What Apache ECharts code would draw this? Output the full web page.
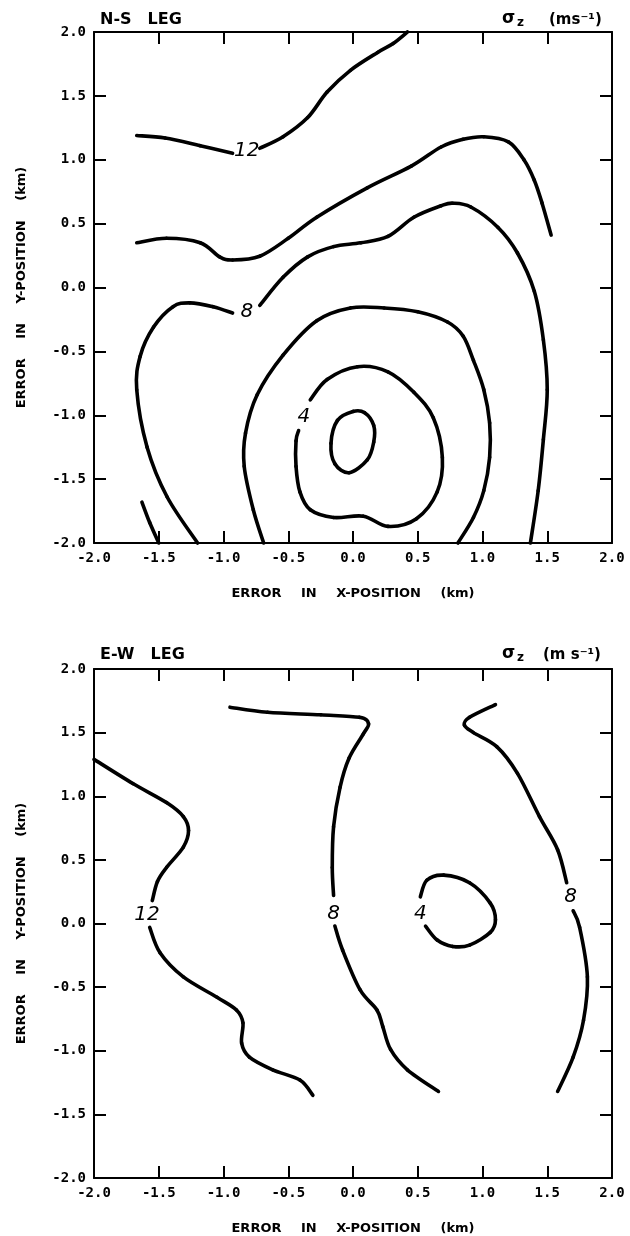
<!DOCTYPE html>
<html>
<head>
<meta charset="utf-8">
<script src="https://cdn.jsdelivr.net/npm/echarts@6/dist/echarts.min.js"></script>
<style>
  html, body { margin: 0; padding: 0; background: #fff; }
  #chart { width: 630px; height: 1236px; }
</style>
</head>
<body>
<div id="chart"></div>
<script>
// Axis range shared by both panels (km)
const axisMin = -2;
const axisMax = 2;
const axisStep = 0.5;

// ---- N-S leg: sigma_z isolines (x km, y km) ----
const nsLine12a = [[-1.67, 1.19], [-1.45, 1.17], [-1.18, 1.11], [-0.93, 1.05]];
const nsLine12b = [[-0.72, 1.09], [-0.54, 1.18], [-0.35, 1.33], [-0.20, 1.53], [-0.02, 1.70], [0.19, 1.84], [0.31, 1.91], [0.42, 2.0]];
const nsLine10 = [[-1.67, 0.35], [-1.44, 0.385], [-1.18, 0.35], [-1.03, 0.24], [-0.93, 0.215], [-0.72, 0.245], [-0.50, 0.385], [-0.28, 0.55], [0.11, 0.78], [0.45, 0.95], [0.68, 1.10], [0.85, 1.16], [1.01, 1.18], [1.20, 1.14], [1.32, 1.00], [1.40, 0.84], [1.46, 0.66], [1.53, 0.41]];
const nsLine8a = [[-1.20, -2.0], [-1.435, -1.64], [-1.59, -1.25], [-1.67, -0.80], [-1.644, -0.54], [-1.54, -0.31], [-1.39, -0.15], [-1.26, -0.12], [-1.08, -0.15], [-0.93, -0.20]];
const nsLine8b = [[-0.72, -0.14], [-0.54, 0.08], [-0.35, 0.24], [-0.15, 0.32], [0.06, 0.35], [0.27, 0.40], [0.47, 0.55], [0.68, 0.64], [0.77, 0.66], [0.91, 0.63], [1.12, 0.47], [1.27, 0.27], [1.40, -0.03], [1.47, -0.41], [1.50, -0.80], [1.47, -1.19], [1.43, -1.59], [1.37, -2.0]];
const nsLineStub = [[-1.63, -1.68], [-1.57, -1.84], [-1.50, -2.0]];
const nsLine6 = [[-0.69, -2.0], [-0.77, -1.74], [-0.84, -1.40], [-0.83, -1.14], [-0.74, -0.84], [-0.54, -0.53], [-0.28, -0.26], [-0.02, -0.16], [0.24, -0.16], [0.50, -0.19], [0.73, -0.27], [0.85, -0.38], [0.93, -0.57], [1.01, -0.80], [1.055, -1.06], [1.055, -1.33], [1.01, -1.59], [0.93, -1.80], [0.81, -2.0]];
const nsLine4 = [[-0.33, -0.88], [-0.20, -0.72], [0.035, -0.62], [0.27, -0.66], [0.47, -0.82], [0.62, -1.02], [0.69, -1.33], [0.65, -1.60], [0.49, -1.81], [0.27, -1.87], [0.08, -1.79], [-0.15, -1.80], [-0.33, -1.74], [-0.41, -1.60], [-0.44, -1.40], [-0.44, -1.20], [-0.42, -1.12]];
const nsLine2 = [[0.0, -0.97], [0.09, -0.98], [0.16, -1.08], [0.16, -1.21], [0.11, -1.35], [-0.03, -1.45], [-0.14, -1.38], [-0.17, -1.22], [-0.12, -1.04], [0.0, -0.97]];
const nsLabels = [
  { name: '12', value: [-0.82, 1.07] },
  { name: '8', value: [-0.82, -0.19] },
  { name: '4', value: [-0.38, -1.01] }
];

// ---- E-W leg: sigma_z isolines ----
const ewLine12a = [[-2.0, 1.29], [-1.70, 1.10], [-1.44, 0.95], [-1.31, 0.84], [-1.27, 0.73], [-1.31, 0.60], [-1.44, 0.44], [-1.51, 0.33], [-1.55, 0.18]];
const ewLine12b = [[-1.57, -0.03], [-1.49, -0.23], [-1.31, -0.42], [-1.05, -0.58], [-0.90, -0.68], [-0.85, -0.78], [-0.86, -0.94], [-0.80, -1.05], [-0.62, -1.15], [-0.41, -1.23], [-0.31, -1.35]];
const ewLine8a = [[-0.95, 1.70], [-0.66, 1.66], [-0.25, 1.64], [0.05, 1.62], [0.12, 1.57], [0.08, 1.49], [-0.03, 1.30], [-0.10, 1.07], [-0.15, 0.76], [-0.16, 0.44], [-0.15, 0.22]];
const ewLine8b = [[-0.14, -0.02], [-0.08, -0.21], [0.054, -0.52], [0.185, -0.68], [0.23, -0.81], [0.29, -0.99], [0.42, -1.15], [0.66, -1.32]];
const ewLine4 = [[0.52, 0.21], [0.57, 0.34], [0.70, 0.38], [0.90, 0.32], [1.06, 0.16], [1.10, 0.03], [1.06, -0.07], [0.90, -0.17], [0.77, -0.18], [0.65, -0.13], [0.56, -0.02]];
const ewLine8c = [[1.10, 1.72], [0.90, 1.62], [0.86, 1.56], [0.93, 1.50], [1.11, 1.39], [1.27, 1.18], [1.44, 0.84], [1.58, 0.58], [1.65, 0.32]];
const ewLine8d = [[1.70, 0.10], [1.75, -0.03], [1.81, -0.42], [1.78, -0.76], [1.70, -1.05], [1.58, -1.32]];
const ewLabels = [
  { name: '12', value: [-1.59, 0.07] },
  { name: '8', value: [-0.15, 0.08] },
  { name: '4', value: [0.52, 0.08] },
  { name: '8', value: [1.68, 0.21] }
];

const gap = '\u2002\u2002\u2002';
const panelTitles = ['N-S\u2002\u2002LEG', 'E-W\u2002\u2002LEG'];
const unitText = ['(ms⁻¹)', '(m s⁻¹)'];
const xName = ['ERROR', 'IN', 'X-POSITION', '(km)'].join(gap);
const yName = ['ERROR', 'IN', 'Y-POSITION', '(km)'].join(gap);

const font = 'DejaVu Sans';
const tickFont = 'DejaVu Sans Mono';
const ink = '#000';

const grids = [
  { left: 94, top: 32, width: 518, height: 511 },
  { left: 94, top: 669, width: 518, height: 509 }
];

function frameAxes(gi, dir) {
  // two axes per direction: one labelled, one bare (ticks only) on the opposite side
  const main = {
    type: 'value', gridIndex: gi, min: axisMin, max: axisMax, interval: axisStep,
    axisLine: { show: true, onZero: false, lineStyle: { color: ink, width: 2 } },
    axisTick: { show: true, inside: true, length: 12, lineStyle: { color: ink, width: 2 } },
    splitLine: { show: false },
    axisLabel: {
      show: true, color: ink, fontFamily: tickFont, fontWeight: 'bold', fontSize: 14,
      margin: 8,
      formatter: v => v.toFixed(1)
    },
    name: dir === 'x' ? xName : yName,
    nameLocation: 'middle',
    nameGap: dir === 'x' ? 44 : 66,
    nameTextStyle: { color: ink, fontFamily: font, fontWeight: 'bold', fontSize: 13 },
    position: dir === 'x' ? 'bottom' : 'left'
  };
  const bare = {
    type: 'value', gridIndex: gi, min: axisMin, max: axisMax, interval: axisStep,
    position: dir === 'x' ? 'top' : 'right',
    axisLine: { show: true, onZero: false, lineStyle: { color: ink, width: 2 } },
    axisTick: { show: true, inside: true, length: 12, lineStyle: { color: ink, width: 2 } },
    axisLabel: { show: false },
    splitLine: { show: false }
  };
  return [main, bare];
}

// Each isoline is one custom series; its points are mapped through the grid's
// axes and joined with a Catmull-Rom curve (cubic Bezier pieces).
function isoline(points, gi) {
  return {
    type: 'custom', xAxisIndex: gi * 2, yAxisIndex: gi * 2,
    data: points, silent: true,
    renderItem: function (params, api) {
      if (params.dataIndexInside !== 0) return null;
      const n = params.dataInsideLength;
      const p = [];
      for (let j = 0; j < n; j++) p.push(api.coord([api.value(0, j), api.value(1, j)]));
      const closed = n > 3 && p[0][0] === p[n - 1][0] && p[0][1] === p[n - 1][1];
      const at = k => {
        if (closed) { const m = n - 1; return p[((k % m) + m) % m]; }
        return p[Math.max(0, Math.min(n - 1, k))];
      };
      const children = [];
      for (let j = 0; j < n - 1; j++) {
        const p0 = at(j - 1), p1 = at(j), p2 = at(j + 1), p3 = at(j + 2);
        children.push({
          type: 'bezierCurve',
          shape: {
            x1: p1[0], y1: p1[1], x2: p2[0], y2: p2[1],
            cpx1: p1[0] + (p2[0] - p0[0]) / 6, cpy1: p1[1] + (p2[1] - p0[1]) / 6,
            cpx2: p2[0] - (p3[0] - p1[0]) / 6, cpy2: p2[1] - (p3[1] - p1[1]) / 6
          },
          style: { stroke: ink, lineWidth: 3.6, fill: 'none', lineCap: 'round' }
        });
      }
      return { type: 'group', children: children };
    }
  };
}

function isolineLabels(items, gi) {
  return {
    type: 'scatter', xAxisIndex: gi * 2, yAxisIndex: gi * 2,
    data: items, symbol: 'circle', symbolSize: 1, silent: true,
    itemStyle: { color: 'rgba(0,0,0,0)' },
    label: {
      show: true, position: 'inside', formatter: p => p.name, opacity: 1,
      color: ink, fontFamily: font, fontStyle: 'italic', fontSize: 20
    }
  };
}

const series = [
  ...[nsLine12a, nsLine12b, nsLine10, nsLine8a, nsLine8b, nsLineStub, nsLine6, nsLine4, nsLine2].map(p => isoline(p, 0)),
  isolineLabels(nsLabels, 0),
  ...[ewLine12a, ewLine12b, ewLine8a, ewLine8b, ewLine4, ewLine8c, ewLine8d].map(p => isoline(p, 1)),
  isolineLabels(ewLabels, 1)
];

// panel header: leg name on the left, quantity and unit on the right
const headerRows = [20, 655];
function headerTexts(gi) {
  const g = grids[gi];
  const cy = headerRows[gi];
  const base = { fill: ink, fontFamily: font, fontWeight: 'bold', verticalAlign: 'middle' };
  return [
    { type: 'text', x: g.left + 6, y: cy, style: Object.assign({ text: panelTitles[gi], fontSize: 16 }, base) },
    { type: 'text', x: 502, y: cy - 1, style: Object.assign({ text: 'σ', fontSize: 17 }, base) },
    { type: 'text', x: 517, y: cy + 3, style: Object.assign({ text: 'z', fontSize: 12 }, base) },
    { type: 'text', x: gi === 0 ? 549 : 543, y: cy, style: Object.assign({ text: unitText[gi], fontSize: 15 }, base) }
  ];
}

const chart = echarts.init(document.getElementById('chart'), null, { renderer: 'canvas' });
chart.setOption({
  animation: false,
  backgroundColor: '#fff',
  grid: grids,
  xAxis: [...frameAxes(0, 'x'), ...frameAxes(1, 'x')],
  yAxis: [...frameAxes(0, 'y'), ...frameAxes(1, 'y')],
  series: series,
  graphic: [...headerTexts(0), ...headerTexts(1)]
});
</script>
</body>
</html>
